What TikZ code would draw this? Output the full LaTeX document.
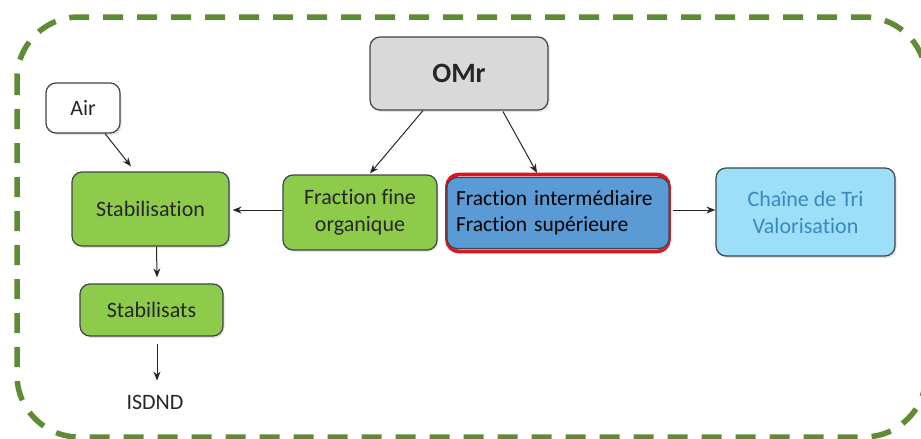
\documentclass[tikz,border=0pt]{standalone}
\usepackage{fontspec}
\setmainfont{Carlito}[Ligatures=NoCommon]
\usetikzlibrary{arrows.meta,shadows,calc}
\definecolor{boxgreen}{HTML}{8FCB4A}
\definecolor{boxgray}{HTML}{D9D9D9}
\definecolor{boxblue}{HTML}{5B9BD5}
\definecolor{boxsky}{HTML}{9DDFF8}
\definecolor{skytext}{HTML}{3A88BE}
\definecolor{framegreen}{HTML}{5E8C32}
\definecolor{edgegray}{HTML}{3A4650}
\definecolor{outlinered}{HTML}{E0141E}
\begin{document}
\begin{tikzpicture}[x=1pt,y=-1pt,
  box/.style={draw=edgegray, line width=1.2pt, rounded corners=10pt, align=center,
    inner sep=0pt, text=black!85, font=\fontsize{22}{27}\selectfont,
    drop shadow={shadow xshift=1.5pt, shadow yshift=-2pt, opacity=0.22}},
  flow/.style={-{Stealth[length=9pt,width=7pt]}, line width=1pt, black!85}]
  \useasboundingbox (0,0) rectangle (921,439);

  % dashed frame around the whole process
  \draw[framegreen, line width=5.5pt, dash pattern=on 20pt off 14pt, rounded corners=62pt, dash phase=4pt]
    (17,17) rectangle (926,437);

  % process boxes
  \node[box, fill=boxgray, minimum width=178pt, minimum height=73pt,
        font=\fontsize{28}{32}\selectfont\bfseries] (omr) at (459,73.5) {OMr};
  \node[box, fill=white, minimum width=74pt, minimum height=50pt] (air) at (83,108) {Air};
  \node[box, fill=boxgreen, minimum width=157pt, minimum height=74pt] (stab) at (150.5,209) {Stabilisation};
  \node[box, fill=boxgreen, minimum width=154pt, minimum height=75pt] (ffo) at (360,212.5) {Fraction fine\\organique};
  % red highlight ring around the blue box
  \draw[outlinered, line width=3.8pt, rounded corners=12pt] (447,174.5) rectangle (669,251.5);
  \node[box, fill=boxblue, minimum width=216pt, minimum height=71pt, align=left,
        text width=204pt, inner xsep=9pt, text=black, font=\fontsize{21.5}{26}\selectfont] (fis) at (558,213)
        {Fraction intermédiaire\\Fraction supérieure};
  \node[box, fill=boxsky, text=skytext, minimum width=179pt, minimum height=88pt] (tri) at (805.5,212) {Chaîne de Tri\\Valorisation};
  \node[box, fill=boxgreen, minimum width=143pt, minimum height=52pt] (stbs) at (151.5,310) {Stabilisats};
  \node[font=\fontsize{22}{27}\selectfont, text=black!85, inner sep=2pt] (isd) at (155,402) {ISDND};

  % free ends of the connectors
  \coordinate (airout) at ($(air.south)+(22,0)$);
  \coordinate (stabin) at ($(stab.north)+(-19.5,-5)$);
  \coordinate (omrl) at ($(omr.south)+(-36,0)$);
  \coordinate (ffoin) at ($(ffo.north)+(10,-1)$);
  \coordinate (omrr) at ($(omr.south)+(44,1)$);
  \coordinate (fisin) at ($(fis.north)+(-21,-4)$);
  \coordinate (stabout) at ($(stab.south)+(6,0)$);
  \coordinate (stbsin) at ($(stbs.north)+(5.5,-6)$);
  \coordinate (stbsout) at ($(stbs.south)+(5.5,7)$);
  \coordinate (isdin) at ($(isd.north)+(2,-12)$);

  % connectors
  \draw[flow] (airout) -- (stabin);
  \draw[flow] (omrl) -- (ffoin);
  \draw[flow] (omrr) -- (fisin);
  \draw[flow] (ffo.west |- 0,210) -- ($(stab.east |- 0,210)+(3,0)$);
  \draw[flow] ($(fis.east |- 0,210)+(3,0)$) -- (tri.west |- 0,210);
  \draw[flow] (stabout) -- (stbsin);
  \draw[flow] (stbsout) -- (isdin);
\end{tikzpicture}
\end{document}
